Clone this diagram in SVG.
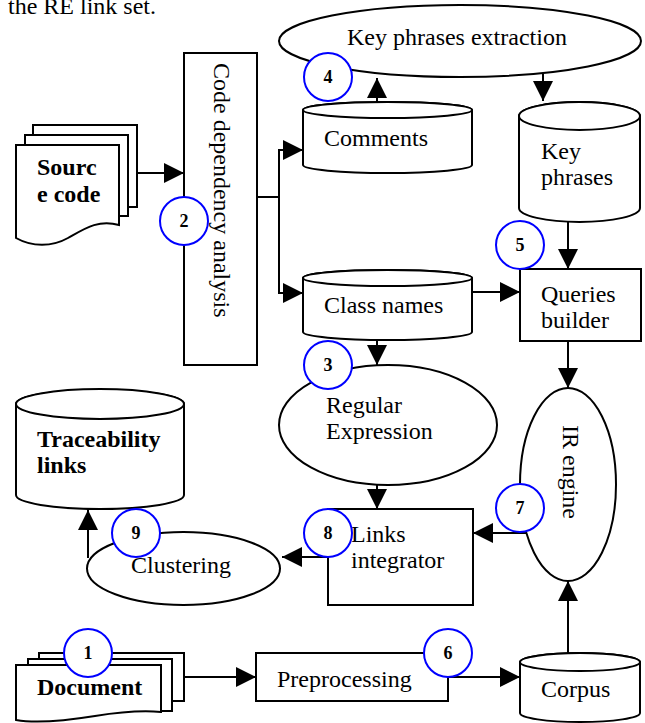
<svg xmlns="http://www.w3.org/2000/svg" width="645" height="723" viewBox="0 0 645 723">
<style>
text{font-family:"Liberation Serif","Times New Roman",serif;font-size:24px;fill:#000}
.b{font-weight:bold}
.n{font-weight:bold;font-size:18px;text-anchor:middle}
.s{fill:#fff;stroke:#000;stroke-width:2}
.c{fill:none;stroke:#000;stroke-width:2}
.step{fill:#fff;stroke:#0000ff;stroke-width:2}
</style>
<defs>
<marker id="ah" markerUnits="userSpaceOnUse" markerWidth="20" markerHeight="20" refX="20" refY="10" orient="auto">
<path d="M0,0 L20,10 L0,20 Z" fill="#000"/>
</marker>
</defs>
<rect width="645" height="723" fill="#fff"/>
<text x="8" y="14">the RE link set.</text>

<g id="connectors" class="c" marker-end="url(#ah)">
<path d="M137,173 H184"/>
<path d="M257,197 H279 V150 H303"/>
<path d="M279,197 V293 H303"/>
<path d="M377,102 V78"/>
<path d="M543,74 V101"/>
<path d="M568,222 V269"/>
<path d="M472,292 H520"/>
<path d="M377,340 V365"/>
<path d="M568,341 V388"/>
<path d="M377,485 V509"/>
<path d="M527,533 H473"/>
<path d="M328,557 H282"/>
<path d="M88,558 V510"/>
<path d="M184,677 H256"/>
<path d="M448,677 H520"/>
<path d="M568,653 V581"/>
</g>

<g id="source-code">
<rect class="s" x="33" y="125" width="104" height="82"/>
<rect class="s" x="25" y="135" width="103" height="81"/>
<path class="s" d="M16,145 H119 V225 C98,219 84,229 68,238 C52,247 32,247 16,238 Z"/>
<text class="b" x="37" y="175">Sourc</text>
<text class="b" x="37" y="202">e code</text>
</g>

<g id="code-dependency-analysis">
<rect class="s" x="184" y="53" width="73" height="312"/>
<text transform="rotate(90 214 63)" x="214" y="63">Code dependency analysis</text>
</g>

<g id="key-phrases-extraction">
<ellipse class="s" cx="460" cy="41" rx="181" ry="36"/>
<text x="347" y="45">Key phrases extraction</text>
</g>

<g id="comments">
<path class="s" d="M303,110 V165 A84.5,8 0 0 0 472,165 V110 A84.5,8 0 0 0 303,110 Z"/>
<ellipse class="s" cx="387.5" cy="110" rx="84.5" ry="8"/>
<text x="324" y="146">Comments</text>
</g>

<g id="key-phrases">
<path class="s" d="M519,116 V208 A60.5,14 0 0 0 640,208 V116 A60.5,14 0 0 0 519,116 Z"/>
<ellipse class="s" cx="579.5" cy="116" rx="60.5" ry="14"/>
<text x="541" y="159">Key</text>
<text x="541" y="185">phrases</text>
</g>

<g id="class-names">
<path class="s" d="M303,278 V332 A84.5,8 0 0 0 472,332 V278 A84.5,8 0 0 0 303,278 Z"/>
<ellipse class="s" cx="387.5" cy="278" rx="84.5" ry="8"/>
<text x="324" y="313">Class names</text>
</g>

<g id="queries-builder">
<rect class="s" x="520" y="269" width="121" height="72"/>
<text x="541" y="302">Queries</text>
<text x="541" y="328">builder</text>
</g>

<g id="regular-expression">
<ellipse class="s" cx="388" cy="425" rx="109" ry="60"/>
<text x="326" y="413">Regular</text>
<text x="326" y="439">Expression</text>
</g>

<g id="ir-engine">
<ellipse class="s" cx="568" cy="484.5" rx="48" ry="96.5"/>
<text transform="rotate(90 563 425)" x="563" y="425">IR engine</text>
</g>

<g id="traceability-links">
<path class="s" d="M16,404 V495 A84,14 0 0 0 184,495 V404 A84,14 0 0 0 16,404 Z"/>
<ellipse class="s" cx="100" cy="404" rx="84" ry="15"/>
<text class="b" x="37" y="447">Traceability</text>
<text class="b" x="37" y="473">links</text>
</g>

<g id="links-integrator">
<rect class="s" x="328" y="509" width="145" height="96"/>
<text x="351" y="542">Links</text>
<text x="351" y="568">integrator</text>
</g>

<g id="clustering">
<ellipse class="s" cx="183.5" cy="568.5" rx="96.5" ry="36.5"/>
<text x="131" y="573">Clustering</text>
</g>

<g id="document">
<rect class="s" x="39" y="653" width="145" height="48"/>
<rect class="s" x="28" y="659" width="144" height="52"/>
<path class="s" d="M16,665 H161 V712 C140,710 120,712 95,716 C70,720 40,724 16,720 Z"/>
<text class="b" x="37" y="695">Document</text>
</g>

<g id="preprocessing">
<rect class="s" x="256" y="653" width="192" height="48"/>
<text x="277" y="687">Preprocessing</text>
</g>

<g id="corpus">
<path class="s" d="M520,662 V713 A60,9 0 0 0 640,713 V662 A60,9 0 0 0 520,662 Z"/>
<ellipse class="s" cx="580" cy="662" rx="60" ry="9"/>
<text x="541" y="697">Corpus</text>
</g>

<g id="steps">
<circle class="step" cx="88" cy="653" r="24"/><text class="n" x="88" y="659">1</text>
<circle class="step" cx="184" cy="221" r="24"/><text class="n" x="184" y="227">2</text>
<circle class="step" cx="328" cy="365" r="24"/><text class="n" x="328" y="371">3</text>
<circle class="step" cx="328" cy="77" r="24"/><text class="n" x="328" y="83">4</text>
<circle class="step" cx="520" cy="245" r="24"/><text class="n" x="520" y="251">5</text>
<circle class="step" cx="448" cy="653" r="24"/><text class="n" x="448" y="659">6</text>
<circle class="step" cx="520" cy="508" r="24"/><text class="n" x="520" y="514">7</text>
<circle class="step" cx="328" cy="533" r="24"/><text class="n" x="328" y="539">8</text>
<circle class="step" cx="136" cy="533" r="24"/><text class="n" x="136" y="539">9</text>
</g>
</svg>
